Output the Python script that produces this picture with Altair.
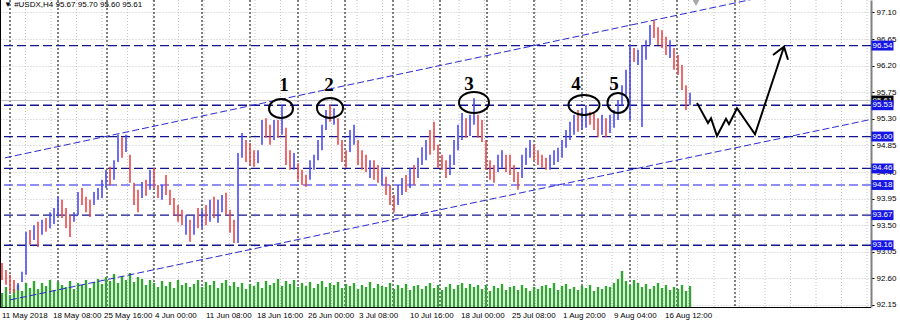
import altair as alt
import pandas as pd

# ---------------- data ----------------
HIGH = [
    92.86, 92.74, 92.66, 92.57, 92.52, 92.71, 93.39, 93.42, 93.50, 93.56,
    93.59, 93.62, 93.72, 93.79, 93.98, 93.93, 93.79, 93.67, 93.72, 94.06,
    94.13, 93.98, 93.93, 94.06, 94.13, 94.27, 94.44, 94.49, 94.60, 95.03,
    94.99, 95.03, 94.69, 94.22, 94.10, 94.23, 94.27, 94.44, 94.47, 94.18,
    94.18, 94.35, 94.10, 93.96, 93.84, 93.76, 93.67, 93.59, 93.67, 93.79,
    93.76, 93.84, 93.93, 93.98, 93.93, 94.01, 94.05, 93.76, 93.59, 94.72,
    95.06, 94.94, 94.89, 94.77, 94.77, 95.28, 95.31, 95.20, 95.28, 95.28,
    95.53, 95.15, 94.77, 94.72, 94.55, 94.44, 94.35, 94.60, 94.69, 94.94,
    95.20, 95.45, 95.53, 95.48, 95.31, 94.94, 94.77, 95.11, 95.20, 94.94,
    94.77, 94.69, 94.60, 94.60, 94.52, 94.47, 94.32, 94.18, 94.01, 94.18,
    94.30, 94.35, 94.47, 94.52, 94.64, 94.82, 94.94, 95.11, 95.25, 94.86,
    94.69, 94.60, 94.69, 94.94, 95.20, 95.40, 95.31, 95.37, 95.65, 95.37,
    95.28, 94.94, 94.60, 94.52, 94.69, 94.77, 94.69, 94.69, 94.52, 94.40,
    94.69, 94.81, 94.94, 94.86, 94.77, 94.69, 94.64, 94.69, 94.77, 94.81,
    94.94, 95.11, 95.25, 95.37, 95.45, 95.48, 95.53, 95.42, 95.40, 95.31,
    95.37, 95.31, 95.37, 95.45, 95.62, 95.87, 96.13, 96.55, 96.50, 96.47,
    96.55, 96.63, 96.89, 96.97, 96.85, 96.80, 96.69, 96.63, 96.50, 96.38,
    96.21, 95.87, 95.74,
]
LOW = [
    92.57, 92.49, 92.37, 92.35, 92.40, 92.54, 92.66, 93.17, 93.25, 93.13,
    93.34, 93.39, 93.45, 93.52, 93.67, 93.62, 93.45, 93.30, 93.56, 93.67,
    93.84, 93.72, 93.64, 93.84, 93.93, 93.96, 94.13, 94.18, 94.27, 94.57,
    94.64, 94.74, 94.22, 93.84, 93.72, 93.96, 94.00, 94.10, 94.13, 93.96,
    93.93, 94.01, 93.84, 93.67, 93.56, 93.50, 93.34, 93.22, 93.34, 93.45,
    93.45, 93.50, 93.56, 93.62, 93.54, 93.72, 93.67, 93.37, 93.20, 93.20,
    94.64, 94.57, 94.52, 94.49, 94.55, 94.86, 94.98, 94.86, 94.94, 94.98,
    95.03, 94.52, 94.44, 94.44, 94.27, 94.18, 94.15, 94.27, 94.44, 94.60,
    94.77, 95.11, 95.25, 95.20, 94.86, 94.57, 94.47, 94.74, 94.86, 94.52,
    94.44, 94.40, 94.30, 94.27, 94.22, 94.18, 94.01, 93.84, 93.72, 93.84,
    94.01, 94.06, 94.13, 94.18, 94.30, 94.52, 94.60, 94.69, 94.77, 94.47,
    94.44, 94.30, 94.35, 94.52, 94.77, 94.94, 94.98, 95.01, 95.20, 94.98,
    94.91, 94.44, 94.27, 94.22, 94.40, 94.47, 94.40, 94.35, 94.23, 94.10,
    94.30, 94.52, 94.64, 94.60, 94.52, 94.47, 94.44, 94.44, 94.52, 94.57,
    94.64, 94.81, 94.94, 95.03, 95.08, 95.11, 95.15, 95.20, 95.11, 94.99,
    95.03, 94.99, 95.06, 95.15, 95.28, 95.53, 95.70, 95.28, 96.26, 96.21,
    95.16, 96.30, 96.55, 96.67, 96.55, 96.50, 96.38, 96.33, 96.13, 96.04,
    95.79, 95.45, 95.53,
]
DIRECTION = list(
    "DDDDUUUDUD" "UDUUUDDDUU" "DDDUUUUDUU" "DUDDDUDUDD" "UDDDDDUDUD"
    "UDUDUUDDDU" "UDDDUUDDUD" "UDDUDDDUUU" "UUDUDDDUUD" "DDUDDUDDDU"
    "UDUDUUUDDD" "DDUUUUDUUD" "DDDDUUDDDD" "UUUDDDDUUU" "UUUUDUUDDD"
    "UDUUUUUUDU" "UUUDDDDUDD" "DDU"
)
VOLUME = [
    1400, 2000, 1200, 1800, 2200, 1600, 2400, 1900,
    2600, 1800, 2400, 2100, 2700, 1700, 2500, 2200,
    2000, 2600, 1800, 2400, 2200, 2700, 1900, 2500,
    2800, 2300, 3000, 2600, 3300, 2400, 3100, 2700,
    3400, 2500, 3000, 2800, 2200, 2700, 2400, 2000,
    2600, 2100, 2500, 1900, 2700, 2200, 2400, 2000,
    2300, 2700, 2000, 2500, 2200, 2600, 1900, 2400,
    2700, 2100, 2500, 2000, 2400, 1800, 2300, 2100,
    2500, 1900, 2600, 2200, 2400, 2800, 2100, 2600,
    2300, 2700, 2000, 2400, 2100, 2500, 1900, 2300,
    2600, 2000, 2400, 2200, 2500, 1900, 2300, 2100,
    2400, 1800, 2200, 2000, 2500, 1900, 2300, 2100,
    2000, 2400, 1800, 2200, 1900, 2300, 1700, 2100,
    2200, 1800, 2100, 2400, 1900, 2200, 1700, 2000,
    2300, 1800, 2200, 2400, 1900, 2300, 2000, 2200,
    1800, 2200, 1600, 2100, 1900, 2300, 1700, 2000,
    2100, 1700, 2200, 1900, 1600, 2000, 1800, 2100,
    2200, 1900, 2400, 1700, 2100, 2300, 1800, 2000,
    1700, 2100, 1900, 2200, 1600, 2000, 1800, 2100,
    2000, 2400, 2800, 3600, 2600, 2200, 2700, 2400,
    2000, 2300, 1800, 2100, 2400, 1900, 2200, 1700,
    2000, 1800, 2200, 1600, 2100,
]

LEVELS_DARK = [96.54, 95.53, 95.00, 94.46, 93.67, 93.16]
LEVELS_LIGHT = [94.18]
BID = 95.61
LAST_OHLC = [95.67, 95.70, 95.60, 95.61]
SYMBOL = "#USDX,H4"

Y_TICKS = [92.15, 92.60, 93.05, 93.50, 93.95, 94.40, 94.85, 95.30, 95.75, 96.20, 96.65, 97.10]
X_LABELS = ["11 May 2018", "18 May 08:00", "25 May 16:00", "4 Jun 00:00", "11 Jun 08:00",
            "18 Jun 16:00", "26 Jun 00:00", "3 Jul 08:00", "10 Jul 16:00", "18 Jul 00:00",
            "25 Jul 08:00", "1 Aug 20:00", "9 Aug 04:00", "16 Aug 12:00"]
LABEL_STEP = 12.75
X_LABEL_POS = [LABEL_STEP * k - 0.25 for k in range(len(X_LABELS))]
SEPARATORS = [2.0, 14.0, 26.25, 38.0, 50.0, 62.0, 74.0, 85.75, 97.75, 109.5,
              121.25, 133.0, 145.0, 157.0, 168.75, 183.25]

CHANNEL_NAME = ["upper", "upper", "lower", "lower"]
CHANNEL_X = [0.75, 217.25, 2.0, 217.25]
CHANNEL_Y = [94.64, 97.75, 92.235, 95.29]

PATH_X = [173.75, 176.5, 177.25, 178.75, 181.0, 181.75, 183.75, 188.25, 195.5]
PATH_Y = [95.57, 95.23, 95.31, 95.01, 95.30, 95.21, 95.48, 95.04, 96.52]
HEAD_X = [192.75, 195.5, 196.5]
HEAD_Y = [96.38, 96.52, 96.30]

PEAK_X = [69.75, 82.0, 118.0, 145.5, 154.0]
PEAK_Y = [95.476, 95.484, 95.577, 95.535, 95.57]
PEAK_NUM_X = [70.5, 81.75, 116.75, 143.5, 153.0]
PEAK_NUM_Y = [95.87, 95.87, 95.89, 95.89, 95.89]
PEAK_LABELS = ["1", "2", "3", "4", "5"]

# ---------------- styling ----------------
W, H = 871, 307
FONT = "Liberation Sans"
UP_C, DOWN_C = "#4a4af2", "#e84848"
ELLIPSE_WH = [(24, 19), (26, 20), (30, 21), (31, 20), (21, 20)]
BOX_X = 882.5

xs = alt.Scale(domain=[-0.5, 217.25], nice=False, zero=False)
ys = alt.Scale(domain=[92.115, 97.3115], nice=False, zero=False)

x_axis = alt.Axis(
    values=X_LABEL_POS, labels=False, title=None, grid=False,
    tickSize=3, tickColor="black", domainColor="black",
)
y_axis = alt.Axis(
    orient="right", values=Y_TICKS, format=".2f", title=None,
    grid=True, gridColor="#c4c4c4", gridDash=[1, 2],
    tickSize=3, tickColor="black", labelPadding=2,
    labelFont=FONT, labelFontSize=8, labelColor="black",
    domainColor="#808080", domainWidth=2,
    labelOverlap=False, labelFlush=False, labelBound=False,
)

n = len(HIGH)
candles = pd.DataFrame({"i": list(range(n)), "high": HIGH, "low": LOW, "dir": DIRECTION})
vol_df = pd.DataFrame({"i": list(range(n)), "vol": VOLUME})

X = lambda f: alt.X(f, scale=xs, axis=None)
Y = lambda f: alt.Y(f, scale=ys, axis=None)

# axes carrier: first layer, invisible marks
axis_layer = alt.Chart(candles).mark_rule(opacity=0).encode(
    x=alt.X("i:Q", scale=xs, axis=x_axis),
    y=alt.Y("low:Q", scale=ys, axis=y_axis),
    y2="high:Q",
)

x_labels = alt.Chart(pd.DataFrame({"x": X_LABEL_POS, "t": X_LABELS})).mark_text(
    align="left", baseline="middle", font=FONT, fontSize=8, color="black", dx=1
).encode(x=X("x:Q"), y=alt.value(H + 9), text="t:N")

bottom_line = alt.Chart(pd.DataFrame({"a": [0]})).mark_rule(color="black", strokeWidth=1).encode(
    x=alt.value(0), x2=alt.value(W), y=alt.value(H + 0.5)
)

vgrid = alt.Chart(pd.DataFrame({"g": [LABEL_STEP / 2 * k - 0.5 for k in range(35)]})).mark_rule(
    color="#c4c4c4", strokeDash=[1, 2], strokeWidth=1
).encode(x=X("g:Q"))

seps = alt.Chart(pd.DataFrame({"s": SEPARATORS})).mark_rule(
    color="black", strokeDash=[2, 2], strokeWidth=1
).encode(x=X("s:Q"))

volume = alt.Chart(vol_df).mark_rule(strokeWidth=2.4, color="#34a534").encode(
    x=X("i:Q"),
    y=alt.Y("vol:Q", scale=alt.Scale(domain=[0, 30700], nice=False, zero=True), axis=None),
    y2=alt.datum(0),
)

bid_line = alt.Chart(pd.DataFrame({"p": [BID]})).mark_rule(color="#c0c0c0", strokeWidth=1).encode(y=Y("p:Q"))

levels_dark = alt.Chart(pd.DataFrame({"p": LEVELS_DARK})).mark_rule(
    strokeDash=[9, 4], strokeWidth=1.3, color="#14148c"
).encode(y=Y("p:Q"))
levels_light = alt.Chart(pd.DataFrame({"p": LEVELS_LIGHT})).mark_rule(
    strokeDash=[9, 4], strokeWidth=1.6, color="#6a6af0"
).encode(y=Y("p:Q"))

channels = alt.Chart(pd.DataFrame({"c": CHANNEL_NAME, "x": CHANNEL_X, "y": CHANNEL_Y})).mark_line(
    clip=True, color="#2a2ad2", strokeDash=[7, 3], strokeWidth=1
).encode(x=X("x:Q"), y=Y("y:Q"), detail="c:N")

up_layer = alt.Chart(candles).transform_filter(alt.datum.dir == "U").mark_rule(
    strokeWidth=1.6, color=UP_C
).encode(x=X("i:Q"), y=Y("low:Q"), y2="high:Q")
down_layer = alt.Chart(candles).transform_filter(alt.datum.dir == "D").mark_rule(
    strokeWidth=1.6, color=DOWN_C
).encode(x=X("i:Q"), y=Y("low:Q"), y2="high:Q")

path = alt.Chart(pd.DataFrame({"x": PATH_X, "y": PATH_Y, "o": list(range(len(PATH_X)))})).mark_line(
    color="black", strokeWidth=2
).encode(x=X("x:Q"), y=Y("y:Q"), order="o:Q")

head = alt.Chart(pd.DataFrame({"x": HEAD_X, "y": HEAD_Y, "o": list(range(len(HEAD_X)))})).mark_line(
    color="black", strokeWidth=2
).encode(x=X("x:Q"), y=Y("y:Q"), order="o:Q")

ellipses = []
for px, py, (ew, eh) in zip(PEAK_X, PEAK_Y, ELLIPSE_WH):
    r = eh / ew
    shape = f"M-1,0A1,{r:.3f},0,1,0,1,0A1,{r:.3f},0,1,0,-1,0Z"
    ellipses.append(
        alt.Chart(pd.DataFrame({"x": [px], "y": [py]})).mark_point(
            shape=shape, size=ew * ew, filled=False, stroke="black", strokeWidth=2, opacity=1
        ).encode(x=X("x:Q"), y=Y("y:Q"))
    )

numbers = alt.Chart(pd.DataFrame({"x": PEAK_NUM_X, "y": PEAK_NUM_Y, "t": PEAK_LABELS})).mark_text(
    font="Liberation Serif", fontWeight="bold", fontSize=19, color="black", baseline="middle"
).encode(x=X("x:Q"), y=Y("y:Q"), text="t:N")

BOX = "M-1,-0.45H1V0.45H-1Z"


def price_tag(values, fill):
    df = pd.DataFrame({"p": values})
    box = alt.Chart(df).mark_point(shape=BOX, size=484, filled=True, color=fill, opacity=1).encode(
        x=alt.value(BOX_X), y=Y("p:Q")
    )
    txt = alt.Chart(df).mark_text(color="white", font=FONT, fontSize=8, baseline="middle").encode(
        x=alt.value(BOX_X), y=Y("p:Q"), text=alt.Text("p:Q", format=".2f")
    )
    return [box, txt]


title_str = "\u25bc " + SYMBOL + "  " + " ".join(f"{v:.2f}" for v in LAST_OHLC)
title_txt = alt.Chart(pd.DataFrame({"t": [title_str]})).mark_text(
    align="left", baseline="middle", font=FONT, fontSize=8, color="black"
).encode(x=alt.value(4), y=alt.value(5), text="t:N")

shift_marker = alt.Chart(pd.DataFrame({"a": [0]})).mark_point(
    shape="triangle-down", filled=True, color="#a8a8a8", size=45, opacity=1
).encode(x=alt.value(696), y=alt.value(3))

left_border = alt.Chart(pd.DataFrame({"a": [0]})).mark_rule(color="black", strokeWidth=1).encode(
    x=alt.value(0.5), y=alt.value(0), y2=alt.value(H)
)

chart = alt.layer(
    axis_layer, vgrid, seps, volume,
    bid_line, levels_dark, levels_light, channels, down_layer, up_layer,
    path, head, *ellipses, numbers,
    *price_tag([BID], "black"),
    *price_tag(LEVELS_DARK + LEVELS_LIGHT, "#1616e4"),
    x_labels, bottom_line, title_txt, shift_marker, left_border,
).resolve_scale(y="independent").properties(
    width=W, height=H,
    padding={"left": 0, "top": 0, "right": 900 - W, "bottom": 324 - H},
    autosize=alt.AutoSizeParams(type="none"),
    background="white",
).configure_view(stroke=None)

chart.save("out.html", embed_options={"renderer": "svg", "actions": False})
